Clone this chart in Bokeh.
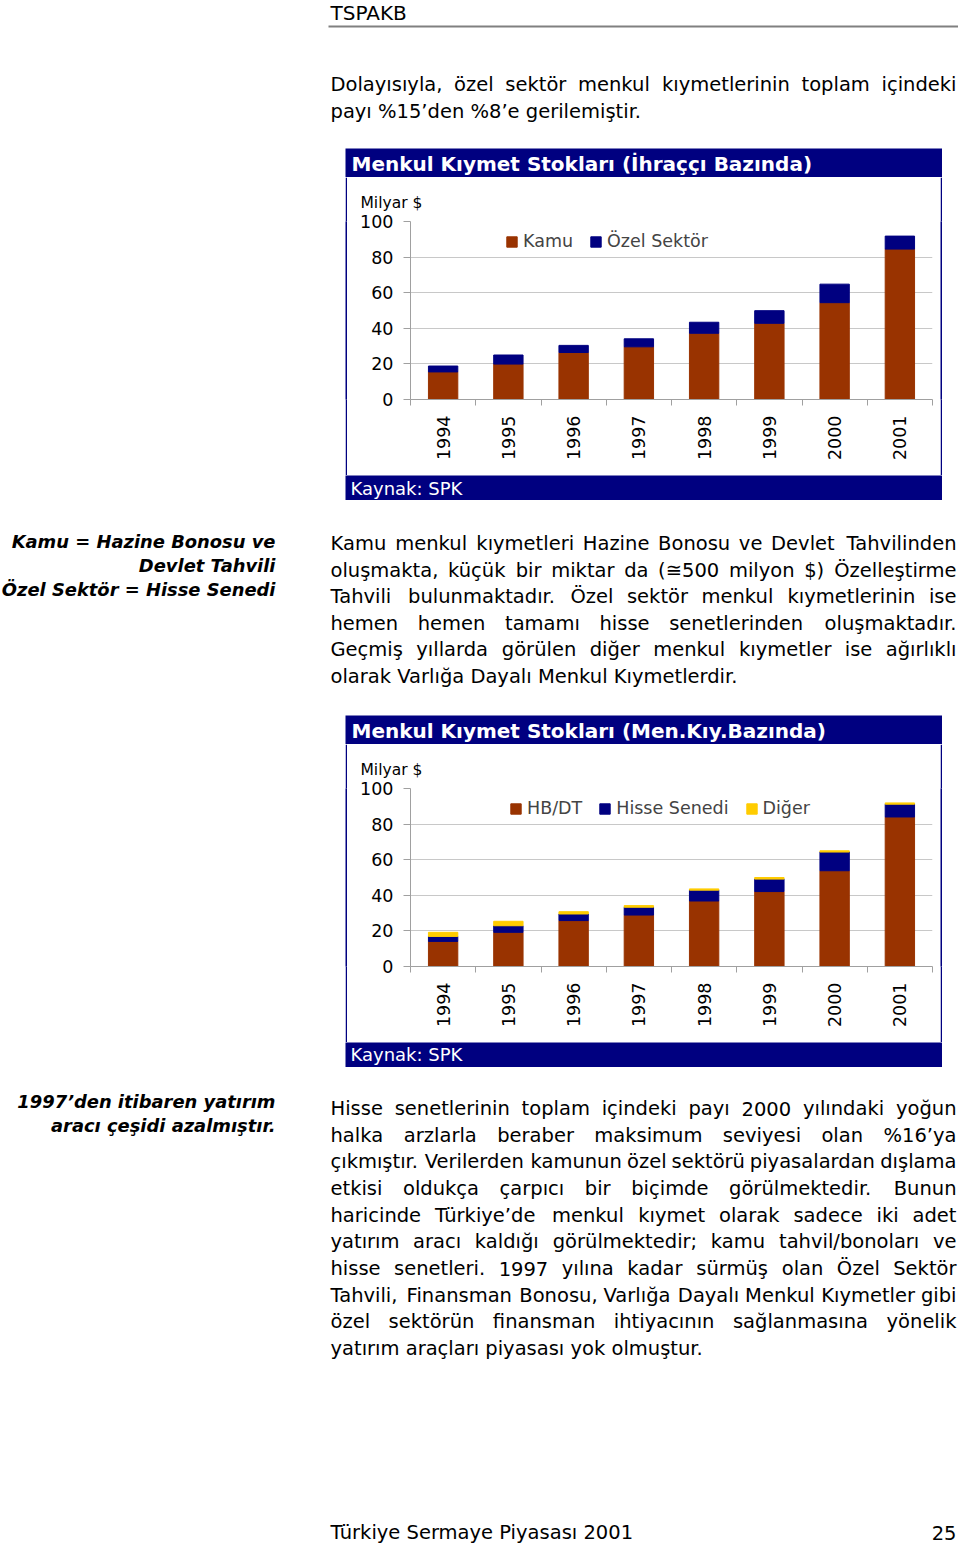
import math
from bokeh.plotting import figure
from bokeh.models import Range1d, FixedTicker, ColumnDataSource
from bokeh.layouts import column, row
from bokeh.core.properties import value
from bokeh.embed import file_html
from bokeh.resources import INLINE

# ---------------- data ----------------
years = ["1994", "1995", "1996", "1997", "1998", "1999", "2000", "2001"]
kamu = [15.5, 19.9, 26.4, 29.6, 37.2, 42.8, 54.4, 84.5]
ozel = [3.3, 5.1, 4.0, 4.5, 6.2, 7.1, 10.4, 7.3]
hbdt = [14.1, 19.2, 25.8, 28.9, 36.8, 42.1, 53.8, 84.0]
hisse = [2.8, 3.7, 3.7, 4.4, 6.1, 7.0, 10.5, 7.2]
diger = [2.3, 2.5, 1.3, 0.9, 0.7, 0.9, 0.7, 0.7]
y_ticks = [0, 20, 40, 60, 80, 100]

title1 = "Menkul Kıymet Stokları (İhraççı Bazında)"
title2 = "Menkul Kıymet Stokları (Men.Kıy.Bazında)"
legend1 = ["Kamu", "Özel Sektör"]
legend2 = ["HB/DT", "Hisse Senedi", "Diğer"]

para1 = ["Dolayısıyla, özel sektör menkul kıymetlerinin toplam içindeki",
         "payı %15’den %8’e gerilemiştir."]
para2 = ["Kamu menkul kıymetleri Hazine Bonosu ve Devlet Tahvilinden",
         "oluşmakta, küçük bir miktar da (≅500 milyon $) Özelleştirme",
         "Tahvili bulunmaktadır. Özel sektör menkul kıymetlerinin ise",
         "hemen hemen tamamı hisse senetlerinden oluşmaktadır.",
         "Geçmiş yıllarda görülen diğer menkul kıymetler ise ağırlıklı",
         "olarak Varlığa Dayalı Menkul Kıymetlerdir."]
para3 = ["Hisse senetlerinin toplam içindeki payı 2000 yılındaki yoğun",
         "halka arzlarla beraber maksimum seviyesi olan %16’ya",
         "çıkmıştır. Verilerden kamunun özel sektörü piyasalardan dışlama",
         "etkisi oldukça çarpıcı bir biçimde görülmektedir. Bunun",
         "haricinde Türkiye’de menkul kıymet olarak sadece iki adet",
         "yatırım aracı kaldığı görülmektedir; kamu tahvil/bonoları ve",
         "hisse senetleri. 1997 yılına kadar sürmüş olan Özel Sektör",
         "Tahvili, Finansman Bonosu, Varlığa Dayalı Menkul Kıymetler gibi",
         "özel sektörün finansman ihtiyacının sağlanmasına yönelik",
         "yatırım araçları piyasası yok olmuştur."]
note1 = ["Kamu = Hazine Bonosu ve", "Devlet Tahvili", "Özel Sektör = Hisse Senedi"]
note2 = ["1997’den itibaren yatırım", "aracı çeşidi azalmıştır."]

NAVY = "#000080"
BROWN = "#993300"
GOLD = "#FFCC00"
FONT = "DejaVu Sans"
BODY = 19.5
PAGE_W = 958

W = {' ': .318, 'a': .613, 'b': .635, 'c': .550, 'd': .635, 'e': .615, 'f': .352, 'g': .635,
     'h': .634, 'i': .278, 'j': .278, 'k': .579, 'l': .278, 'm': .974, 'n': .634, 'o': .612,
     'p': .635, 'q': .635, 'r': .411, 's': .521, 't': .392, 'u': .634, 'v': .592, 'w': .818,
     'x': .592, 'y': .592, 'z': .525, 'A': .684, 'B': .686, 'C': .698, 'D': .770, 'E': .632,
     'F': .575, 'G': .775, 'H': .752, 'I': .295, 'J': .295, 'K': .656, 'L': .557, 'M': .863,
     'N': .748, 'O': .787, 'P': .603, 'R': .695, 'S': .635, 'T': .611, 'U': .732, 'V': .684,
     'W': .989, 'Y': .611, 'Z': .685, '.': .318, ',': .318, ';': .337, ':': .337, '(': .390,
     ')': .390, '%': .950, '$': .636, '’': .318, '/': .337, '=': .838, '≅': .838,
     'ı': .278, 'ş': .521, 'ğ': .635, 'ç': .550, 'ö': .612, 'ü': .634, 'Ö': .787, 'Ü': .732,
     'İ': .295, 'Ç': .698, 'Ş': .635}
for d in "0123456789":
    W[d] = .636


def tw(s):
    return sum(W.get(c, 0.6) for c in s)


def page_fig(top, bottom):
    return figure(width=PAGE_W, height=bottom - top, x_range=Range1d(0, PAGE_W),
                  y_range=Range1d(bottom, top), x_axis_type=None, y_axis_type=None,
                  toolbar_location=None, output_backend="svg", min_border=0,
                  background_fill_color="white", border_fill_color="white",
                  outline_line_color=None)


def paragraph(p, lines, x0, x1, c0, step, size):
    lx, ly, lt, rx, ry, rt = [], [], [], [], [], []
    for k, line in enumerate(lines):
        y = c0 + k * step
        words = line.split(" ")
        justify = k < len(lines) - 1
        if justify and len(words) > 1:
            ws = [tw(w) * size for w in words]
            gap = (x1 - x0 - sum(ws)) / (len(words) - 1)
            x = x0
            for w, wd in zip(words[:-1], ws[:-1]):
                lx.append(x); ly.append(y); lt.append(w)
                x += wd + gap
            rx.append(x1); ry.append(y); rt.append(words[-1])
        else:
            lx.append(x0); ly.append(y); lt.append(line)
    kw = dict(text_font=value(FONT), text_font_size=value(f"{size}px"),
              text_baseline="middle", text_color="black")
    p.text(x=lx, y=ly, text=lt, text_align="left", **kw)
    if rx:
        p.text(x=rx, y=ry, text=rt, text_align="right", **kw)


def note(p, lines, xr, c0, step):
    p.text(x=[xr] * len(lines), y=[c0 + k * step for k in range(len(lines))],
           text=lines, text_font=value(FONT), text_font_size=value("17.9px"),
           text_font_style="bold italic", text_align="right",
           text_baseline="middle", text_color="black")


def band_fig(w, h):
    return figure(width=w, height=h, x_range=Range1d(0, w), y_range=Range1d(h, 0),
                  x_axis_type=None, y_axis_type=None, toolbar_location=None,
                  output_backend="svg", min_border=0, background_fill_color=NAVY,
                  border_fill_color=NAVY, outline_line_color=None)


def make_chart(title, names, stacks, colors, labels, legend_x, src_y):
    tf = band_fig(597, 29)
    tf.text(x=[6], y=[15], text=[title], text_font=value(FONT), text_font_size=value("20px"),
            text_font_style="bold", text_color="white", text_baseline="middle")

    n = len(years)
    p = figure(width=593, height=298, x_range=Range1d(0, n), y_range=Range1d(0, 100),
               toolbar_location=None, output_backend="svg",
               min_border_left=63, min_border_right=8, min_border_top=44, min_border_bottom=76,
               background_fill_color="white", border_fill_color="white",
               outline_line_color=None, title="Milyar $", title_location="above")
    p.title.align = "left"
    p.title.offset = -50
    p.title.standoff = 20
    p.title.text_font = FONT
    p.title.text_font_size = "15.5px"
    p.title.text_font_style = "normal"
    p.title.text_color = "black"

    data = {"x": [i + 0.5 for i in range(n)]}
    data.update(stacks)
    src = ColumnDataSource(data)
    p.vbar_stack(names, x="x", width=0.45, color=colors, source=src, legend_label=labels)

    xa = p.xaxis[0]
    xa.ticker = FixedTicker(ticks=[i + 0.5 for i in range(n)], minor_ticks=list(range(n + 1)))
    ov = {}
    for i, yr in enumerate(years):
        ov[i + 0.5] = yr
        ov[str(i + 0.5)] = yr
    xa.major_label_overrides = ov
    xa.major_label_orientation = math.pi / 2
    xa.major_tick_line_color = None
    xa.major_tick_out = 6
    xa.minor_tick_out = 6
    xa.minor_tick_in = 0
    xa.minor_tick_line_color = "#a0a0a0"
    xa.axis_line_color = "#a0a0a0"
    xa.major_label_standoff = 10
    xa.major_label_text_font = FONT
    xa.major_label_text_font_size = "17.5px"
    xa.major_label_text_color = "black"

    ya = p.yaxis[0]
    ya.ticker = FixedTicker(ticks=y_ticks)
    ya.major_tick_out = 7
    ya.major_tick_in = 0
    ya.minor_tick_line_color = None
    ya.major_tick_line_color = "#a0a0a0"
    ya.axis_line_color = "#a0a0a0"
    ya.major_label_standoff = 10
    ya.major_label_text_font = FONT
    ya.major_label_text_font_size = "17.5px"
    ya.major_label_text_color = "black"

    p.xgrid.visible = False
    p.ygrid.ticker = FixedTicker(ticks=y_ticks)
    p.ygrid.grid_line_color = "#c8c8c8"

    lg = p.legend[0]
    lg.location = (legend_x, 148)
    lg.orientation = "horizontal"
    lg.glyph_width = 13
    lg.glyph_height = 13
    lg.label_standoff = 5
    lg.spacing = 16
    lg.padding = 0
    lg.margin = 0
    lg.label_height = 20
    lg.border_line_color = None
    lg.background_fill_alpha = 0
    lg.label_text_font = FONT
    lg.label_text_font_size = "17.5px"

    sf = band_fig(597, 25)
    sf.text(x=[5], y=[src_y], text=["Kaynak: SPK"], text_font=value(FONT),
            text_font_size=value("18px"), text_color="white", text_baseline="middle")
    return column(tf, row(band_fig(2, 298), p, band_fig(2, 298)), sf)


def spacer_fig(w, h):
    return figure(width=w, height=h, x_axis_type=None, y_axis_type=None, toolbar_location=None,
                  output_backend="svg", min_border=0, outline_line_color=None,
                  background_fill_color="white", border_fill_color="white")


# ---------------- layout (page pixel coordinates) ----------------
C1, C2, CH, PAGE_H = 148, 715, 352, 1544

top = page_fig(0, C1)
top.text(x=[330], y=[12], text=["TSPAKB"], text_font=value(FONT),
         text_font_size=value("20px"), text_baseline="middle", text_color="black")
top.segment(x0=[328], y0=[26], x1=[PAGE_W], y1=[26], line_color="#808080", line_width=2)
paragraph(top, para1, 330, 956, 84, 26.5, BODY)

mid = page_fig(C1 + CH, C2)
note(mid, note1, 275, 541, 24)
paragraph(mid, para2, 330, 956, 543, 26.5, BODY)

bot = page_fig(C2 + CH, PAGE_H)
note(bot, note2, 275, 1101, 24)
paragraph(bot, para3, 330, 956, 1108, 26.67, BODY)
bot.text(x=[330], y=[1532], text=["Türkiye Sermaye Piyasası 2001"], text_font=value(FONT),
         text_font_size=value(f"{BODY}px"), text_baseline="middle", text_color="black")
bot.text(x=[956], y=[1532], text=["25"], text_font=value(FONT), text_align="right",
         text_font_size=value(f"{BODY}px"), text_baseline="middle", text_color="black")

chart1 = make_chart(title1, ["kamu", "ozel"], {"kamu": kamu, "ozel": ozel},
                    [BROWN, NAVY], legend1, 95, 13)
chart2 = make_chart(title2, ["hbdt", "hisse", "diger"],
                    {"hbdt": hbdt, "hisse": hisse, "diger": diger},
                    [BROWN, NAVY, GOLD], legend2, 99, 12)

right_w = PAGE_W - 345 - 597
layout = column(top,
                row(spacer_fig(345, CH), chart1, spacer_fig(right_w, CH)),
                mid,
                row(spacer_fig(345, CH), chart2, spacer_fig(right_w, CH)),
                bot)

open("out.html", "w").write(file_html(layout, INLINE))
